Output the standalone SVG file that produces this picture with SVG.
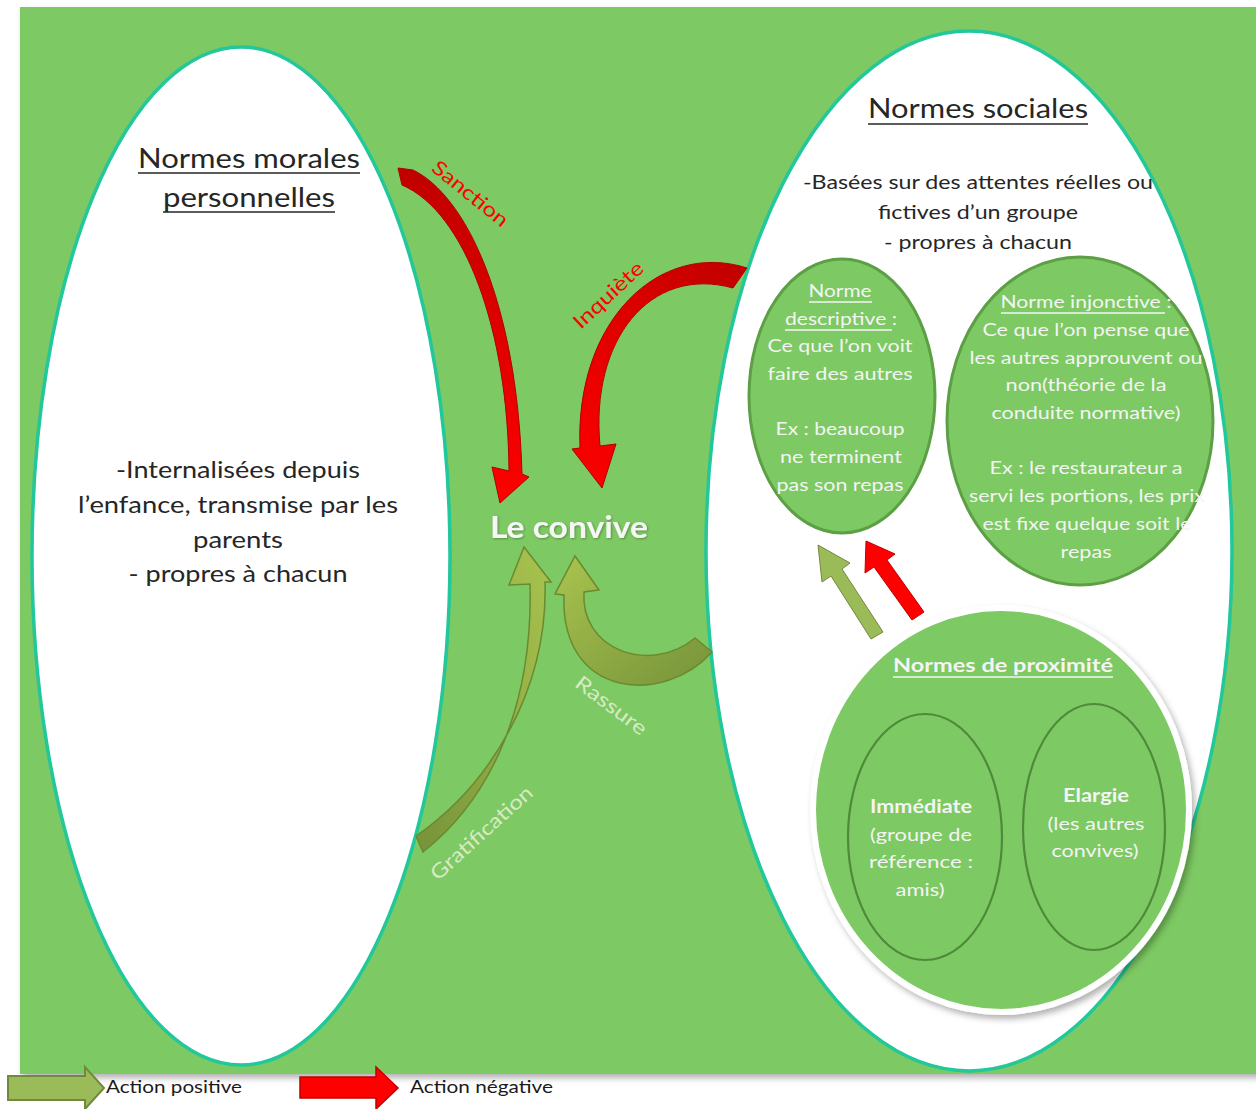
<svg xmlns="http://www.w3.org/2000/svg" width="1256" height="1109" viewBox="0 0 1256 1109">
<defs>
<style>
.t{font-family:Lato,"Liberation Sans",sans-serif;}
.dark{fill:#262626;}
.wh{fill:#f4f4f4;}
.ul{stroke-width:1.6;}
.teal{fill:#ffffff;stroke:#22c79a;stroke-width:3.5;}
.sub{fill:#7dc963;stroke:#5c9f45;stroke-width:3;}
.sub2{fill:none;stroke:#4f8a3a;stroke-width:2.2;}
</style>
<linearGradient id="gRed1" x1="0" y1="0" x2="0" y2="1">
<stop offset="0" stop-color="#c00000"/><stop offset="1" stop-color="#ff0000"/>
</linearGradient>
<linearGradient id="gRed2" x1="1" y1="0" x2="0" y2="1">
<stop offset="0" stop-color="#c00000"/><stop offset="1" stop-color="#ff0000"/>
</linearGradient>
<linearGradient id="gGr1" x1="0" y1="1" x2="1" y2="0">
<stop offset="0" stop-color="#76933a"/><stop offset="1" stop-color="#a9c44e"/>
</linearGradient>
<linearGradient id="gGr2" x1="1" y1="1" x2="0" y2="0">
<stop offset="0" stop-color="#76933a"/><stop offset="1" stop-color="#a9c44e"/>
</linearGradient>
<filter id="sh" x="-10%" y="-10%" width="120%" height="120%">
<feDropShadow dx="3" dy="4" stdDeviation="3" flood-color="#000" flood-opacity="0.3"/>
</filter>
<filter id="tsh" x="-10%" y="-30%" width="120%" height="160%">
<feDropShadow dx="1" dy="1" stdDeviation="1" flood-color="#000" flood-opacity="0.3"/>
</filter>
</defs>

<rect x="0" y="0" width="1256" height="1109" fill="#ffffff"/>
<g id="background">
<rect x="20" y="7" width="1240" height="1067" fill="#7dc963" filter="url(#sh)"/>
</g>

<g id="normes-morales">
<ellipse class="teal" cx="241" cy="556" rx="209" ry="509"/>
<text class="t dark" x="249" y="168" font-size="26" text-anchor="middle" textLength="222" lengthAdjust="spacingAndGlyphs">Normes morales</text>
<line class="ul" x1="138" y1="173" x2="360" y2="173" stroke="#262626"/>
<text class="t dark" x="249" y="207" font-size="26" text-anchor="middle" textLength="172" lengthAdjust="spacingAndGlyphs">personnelles</text>
<line class="ul" x1="163" y1="212" x2="335" y2="212" stroke="#262626"/>
<g class="t dark" font-size="23" text-anchor="middle">
<text x="238" y="478" textLength="244" lengthAdjust="spacingAndGlyphs">-Internalisées depuis</text>
<text x="238" y="513" textLength="320" lengthAdjust="spacingAndGlyphs">l’enfance, transmise par les</text>
<text x="238" y="548" textLength="90" lengthAdjust="spacingAndGlyphs">parents</text>
<text x="238" y="582" textLength="219" lengthAdjust="spacingAndGlyphs">- propres à chacun</text>
</g>
</g>

<g id="normes-sociales">
<ellipse class="teal" cx="969" cy="551" rx="263" ry="520"/>
<text class="t dark" x="978" y="118" font-size="26" text-anchor="middle" textLength="220" lengthAdjust="spacingAndGlyphs">Normes sociales</text>
<line class="ul" x1="868" y1="124" x2="1088" y2="124" stroke="#262626"/>
<g class="t dark" font-size="19" text-anchor="middle">
<text x="978" y="189" textLength="350" lengthAdjust="spacingAndGlyphs">-Basées sur des attentes réelles ou</text>
<text x="978" y="219" textLength="200" lengthAdjust="spacingAndGlyphs">fictives d’un groupe</text>
<text x="978" y="249" textLength="188" lengthAdjust="spacingAndGlyphs">- propres à chacun</text>
</g>
</g>

<g id="norme-descriptive">
<ellipse class="sub" cx="842" cy="396" rx="93" ry="137"/>
<g class="t wh" font-size="18" text-anchor="middle">
<text x="840" y="297" textLength="63" lengthAdjust="spacingAndGlyphs">Norme</text>
<text x="841" y="325" textLength="112" lengthAdjust="spacingAndGlyphs">descriptive :</text>
<text x="840" y="352" textLength="145" lengthAdjust="spacingAndGlyphs">Ce que l’on voit</text>
<text x="840" y="380" textLength="145" lengthAdjust="spacingAndGlyphs">faire des autres</text>
<text x="840" y="435" textLength="129" lengthAdjust="spacingAndGlyphs">Ex : beaucoup</text>
<text x="841" y="463" textLength="122" lengthAdjust="spacingAndGlyphs">ne terminent</text>
<text x="840" y="491" textLength="127" lengthAdjust="spacingAndGlyphs">pas son repas</text>
</g>
<line class="ul" x1="809" y1="302" x2="872" y2="302" stroke="#f4f4f4"/>
<line class="ul" x1="785" y1="330" x2="892" y2="330" stroke="#f4f4f4"/>
</g>

<g id="norme-injonctive">
<ellipse class="sub" cx="1080" cy="421" rx="133" ry="164"/>
<g class="t wh" font-size="18" text-anchor="middle">
<text x="1086" y="308" textLength="171" lengthAdjust="spacingAndGlyphs">Norme injonctive :</text>
<text x="1086" y="336" textLength="207" lengthAdjust="spacingAndGlyphs">Ce que l’on pense que</text>
<text x="1086" y="364" textLength="233" lengthAdjust="spacingAndGlyphs">les autres approuvent ou</text>
<text x="1086" y="391" textLength="161" lengthAdjust="spacingAndGlyphs">non(théorie de la</text>
<text x="1086" y="419" textLength="189" lengthAdjust="spacingAndGlyphs">conduite normative)</text>
<text x="1086" y="474" textLength="193" lengthAdjust="spacingAndGlyphs">Ex : le restaurateur a</text>
<text x="1087" y="502" textLength="236" lengthAdjust="spacingAndGlyphs">servi les portions, les prix</text>
<text x="1087" y="530" textLength="209" lengthAdjust="spacingAndGlyphs">est fixe quelque soit le</text>
<text x="1086" y="558" textLength="51" lengthAdjust="spacingAndGlyphs">repas</text>
</g>
<line class="ul" x1="1001" y1="313" x2="1165" y2="313" stroke="#f4f4f4"/>
</g>

<g id="normes-proximite">
<ellipse cx="1001" cy="810" rx="188" ry="202" fill="#7dc963" stroke="#ffffff" stroke-width="6" filter="url(#sh)"/>
<text class="t wh" x="1003" y="672" font-size="19" font-weight="bold" text-anchor="middle" textLength="220" lengthAdjust="spacingAndGlyphs">Normes de proximité</text>
<line class="ul" x1="893" y1="677" x2="1113" y2="677" stroke="#f4f4f4"/>
</g>

<g id="immediate">
<ellipse class="sub2" cx="925" cy="837" rx="77" ry="123"/>
<g class="t wh" font-size="18" text-anchor="middle">
<text x="921" y="813" font-weight="bold" textLength="102" lengthAdjust="spacingAndGlyphs">Immédiate</text>
<text x="921" y="841" textLength="102" lengthAdjust="spacingAndGlyphs">(groupe de</text>
<text x="921" y="868" textLength="104" lengthAdjust="spacingAndGlyphs">référence :</text>
<text x="920" y="896" textLength="49" lengthAdjust="spacingAndGlyphs">amis)</text>
</g>
</g>

<g id="elargie">
<ellipse class="sub2" cx="1094" cy="827" rx="71" ry="123"/>
<g class="t wh" font-size="18" text-anchor="middle">
<text x="1096" y="802" font-weight="bold" textLength="66" lengthAdjust="spacingAndGlyphs">Elargie</text>
<text x="1096" y="830" textLength="97" lengthAdjust="spacingAndGlyphs">(les autres</text>
<text x="1095" y="857" textLength="87" lengthAdjust="spacingAndGlyphs">convives)</text>
</g>
</g>

<g id="le-convive">
<text class="t" x="569" y="538" font-size="30" font-weight="bold" fill="#f6f6f6" text-anchor="middle" textLength="158" lengthAdjust="spacingAndGlyphs" filter="url(#tsh)">Le convive</text>
</g>

<g id="connectors">
<!-- Sanction -->
<path d="M398,168 L413,170 C465,195 517,300 522,474 L529,477 L500,503 L492,467 L509,471 C508,330 465,212 402,185 Z" fill="url(#gRed1)" stroke="#b00000" stroke-width="1"/>
<!-- Inquiete -->
<path d="M747,268 C660,240 575,320 580,448 L572,449 L602,488 L616,444 L600,446 C590,340 650,265 733,288 Z" fill="url(#gRed2)" stroke="#b00000" stroke-width="1"/>
<!-- Gratification -->
<path d="M524,547 L551,582 L545,582 C548,690 490,785 416,836 L423,852 C495,795 533,700 530,584 L509,585 Z" fill="url(#gGr1)" stroke="#6b8a30" stroke-width="1.5"/>
<!-- Rassure -->
<path d="M575,556 L599,590 L584,592 C580,650 650,675 695,638 L712,652 C665,705 560,700 564,595 L555,594 Z" fill="url(#gGr2)" stroke="#6b8a30" stroke-width="1.5"/>
<g class="t" font-size="20">
<text x="0" y="0" fill="#ff0000" text-anchor="middle" textLength="92" lengthAdjust="spacingAndGlyphs" transform="translate(466,199) rotate(39)">Sanction</text>
<text x="0" y="0" fill="#ff0000" text-anchor="middle" textLength="88" lengthAdjust="spacingAndGlyphs" transform="translate(613,300) rotate(-43)">Inquiète</text>
<text x="0" y="0" fill="#d8e9c6" text-anchor="middle" textLength="84" lengthAdjust="spacingAndGlyphs" transform="translate(607,711) rotate(37)">Rassure</text>
<text x="0" y="0" fill="#d8e9c6" text-anchor="middle" textLength="130" lengthAdjust="spacingAndGlyphs" transform="translate(486,838) rotate(-42)">Gratification</text>
</g>
<!-- arrows to Norme descriptive -->
<path d="M871,639 L831,576 L822,582 L818,545 L850,563 L842,569 L883,632 Z" fill="#9bbb59" stroke="#71893f" stroke-width="1"/>
<path d="M912,620 L874,567 L865,573 L866,541 L895,554 L887,560 L924,612 Z" fill="#ff0000" stroke="#c00000" stroke-width="1"/>
</g>

<g id="legend">
<path d="M8,1076 L85,1076 L85,1067 L104,1088 L85,1109 L85,1100 L8,1100 Z" fill="#9bbb59" stroke="#71893f" stroke-width="2"/>
<text class="t" x="106" y="1093" font-size="18" fill="#1a1a1a" textLength="136" lengthAdjust="spacingAndGlyphs">Action positive</text>
<path d="M300,1077 L376,1077 L376,1067 L398,1088 L376,1109 L376,1098 L300,1098 Z" fill="#ff0000" stroke="#c00000" stroke-width="1.5"/>
<text class="t" x="410" y="1093" font-size="18" fill="#1a1a1a" textLength="143" lengthAdjust="spacingAndGlyphs">Action négative</text>
</g>
</svg>
